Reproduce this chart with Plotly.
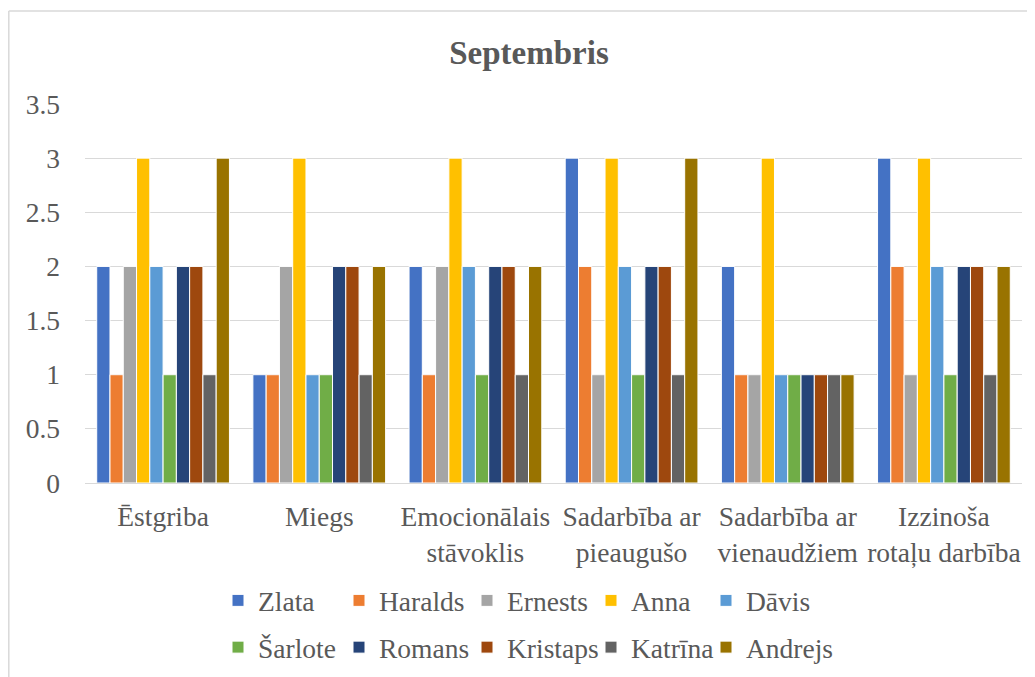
import plotly.graph_objects as go

categories = ["Ēstgriba", "Miegs", "Emocionālais<br>stāvoklis", "Sadarbība ar<br>pieaugušo",
              "Sadarbība ar<br>vienaudžiem", "Izzinoša<br>rotaļu darbība"]
series_names = ["Zlata", "Haralds", "Ernests", "Anna", "Dāvis",
                "Šarlote", "Romans", "Kristaps", "Katrīna", "Andrejs"]
zlata = [2, 1, 2, 3, 2, 3]
haralds = [1, 1, 1, 2, 1, 2]
ernests = [2, 2, 2, 1, 1, 1]
anna = [3, 3, 3, 3, 3, 3]
davis = [2, 1, 2, 2, 1, 2]
sarlote = [1, 1, 1, 1, 1, 1]
romans = [2, 2, 2, 2, 1, 2]
kristaps = [2, 2, 2, 2, 1, 2]
katrina = [1, 1, 1, 1, 1, 1]
andrejs = [3, 2, 2, 3, 1, 2]
series_values = [zlata, haralds, ernests, anna, davis, sarlote, romans, kristaps, katrina, andrejs]
colors = ["#4472C4", "#ED7D31", "#A5A5A5", "#FFC000", "#5B9BD5",
          "#70AD47", "#264478", "#9E480E", "#636363", "#997300"]
yticks = [0, 0.5, 1, 1.5, 2, 2.5, 3, 3.5]

FONT = "Liberation Serif"
TXT = "#595959"
FS = 27.5

# page body has an 8px margin, so the figure is sized/positioned to compensate
W, H = 1027, 669
L, R, T, B = 77, 13, 96, 194
pw = W - L - R
ph = H - T - B

def px_to_paper_x(px):
    return (px - L) / pw

def px_to_paper_y(py):
    return (H - B - py) / ph

legend_ids = ["legend", "legend2", "legend3", "legend4", "legend5"]

fig = go.Figure()
for i, (name, vals, col) in enumerate(zip(series_names, series_values, colors)):
    fig.add_trace(go.Bar(
        x=categories, y=vals, name=name,
        marker=dict(color=col, line=dict(color="white", width=1)),
        legend=legend_ids[i % 5], legendgroup=name,
    ))

legend_cols_px = [210, 331, 459, 583, 698]
legend_top_px = 568

legend_layout = {}
for lid, xpx in zip(legend_ids, legend_cols_px):
    legend_layout[lid] = dict(
        orientation="v", xanchor="left", yanchor="top",
        xref="container", yref="container",
        x=xpx / W, y=1 - legend_top_px / H,
        font=dict(family=FONT, size=FS, color=TXT),
        tracegroupgap=8, traceorder="grouped",
        bgcolor="rgba(0,0,0,0)", itemclick=False, itemdoubleclick=False,
    )

fig.update_layout(
    width=W, height=H,
    margin=dict(l=L, r=R, t=T, b=B, pad=0, autoexpand=False),
    paper_bgcolor="white", plot_bgcolor="white",
    barmode="group", bargap=0.15, bargroupgap=0,
    title=dict(text="<b>Septembris</b>", x=521 / W, xref="container", xanchor="center",
               y=1 - 44 / H, yref="container", yanchor="middle",
               font=dict(family=FONT, size=33, color=TXT)),
    font=dict(family=FONT, size=FS, color=TXT),
    xaxis=dict(showline=True, linecolor="#D9D9D9", linewidth=1, ticks="",
               tickfont=dict(family=FONT, size=FS, color=TXT), ticklabelstandoff=9),
    yaxis=dict(range=[0, 3.5], tickvals=yticks, ticktext=[f"{v:g}" for v in yticks],
               showgrid=True, gridcolor="#D9D9D9", gridwidth=1,
               zeroline=True, zerolinecolor="#D9D9D9", zerolinewidth=1,
               ticks="", tickfont=dict(family=FONT, size=FS, color=TXT),
               ticklabelstandoff=24),
    showlegend=True,
    shapes=[
        dict(type="line", xref="paper", yref="paper",
             x0=px_to_paper_x(0.8), x1=px_to_paper_x(0.8),
             y0=px_to_paper_y(3), y1=px_to_paper_y(700),
             line=dict(color="#D9D9D9", width=1.5)),
        dict(type="line", xref="paper", yref="paper",
             x0=px_to_paper_x(0.8), x1=px_to_paper_x(1060),
             y0=px_to_paper_y(3), y1=px_to_paper_y(3),
             line=dict(color="#D9D9D9", width=1.5)),
    ],
    **legend_layout,
)

fig.write_html("out.html")
